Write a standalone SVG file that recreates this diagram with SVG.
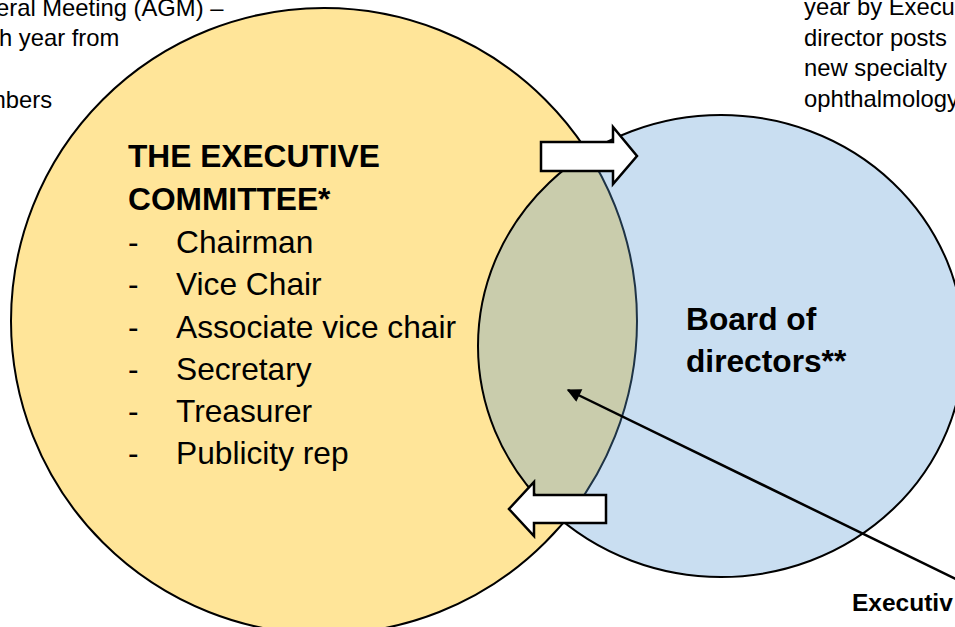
<svg xmlns="http://www.w3.org/2000/svg" width="955" height="627" viewBox="0 0 955 627">
  <style>
    .t { font-family: "Liberation Sans", Arial, sans-serif; fill: #000; }
    .note { font-size: 23.8px; }
    .big { font-size: 31.7px; }
    .b { font-weight: bold; }
    .blk { fill: #fff; stroke: #000; stroke-width: 2.5; stroke-linejoin: miter; }
  </style>
  <defs>
    <marker id="ah" viewBox="0 0 10 10" refX="9" refY="5" markerWidth="17" markerHeight="14" markerUnits="userSpaceOnUse" orient="auto">
      <path d="M0,0 L10,5 L0,10 z" fill="#000"/>
    </marker>
  </defs>
  <rect width="955" height="627" fill="#fff"/>

  <g id="notes">
    <text class="t note" x="-4" y="16">eral Meeting (AGM) –</text>
    <text class="t note" x="-1" y="46">h year from</text>
    <text class="t note" x="-14" y="108">mbers</text>
    <text class="t note" x="804" y="15">year by Execu</text>
    <text class="t note" x="804" y="45.5">director posts</text>
    <text class="t note" x="804" y="76">new specialty</text>
    <text class="t note" x="804" y="107">ophthalmology</text>
  </g>

  <g id="executive-committee">
    <circle cx="324" cy="321" r="313" fill="#FFE599" stroke="#000" stroke-width="2"/>
  </g>

  <g id="board-of-directors">
    <ellipse cx="721" cy="346" rx="243" ry="231" fill="#5B9BD5" fill-opacity="0.33" stroke="#000" stroke-width="2"/>
  </g>

  <g id="executive-committee-label">
    <text class="t big b" x="128" y="167">THE EXECUTIVE</text>
    <text class="t big b" x="128" y="210">COMMITTEE*</text>
    <text class="t big" x="128" y="252.5">-</text><text class="t big" x="176" y="252.5">Chairman</text>
    <text class="t big" x="128" y="295">-</text><text class="t big" x="176" y="295">Vice Chair</text>
    <text class="t big" x="128" y="337.5">-</text><text class="t big" x="176" y="337.5">Associate vice chair</text>
    <text class="t big" x="128" y="379.5">-</text><text class="t big" x="176" y="379.5">Secretary</text>
    <text class="t big" x="128" y="422">-</text><text class="t big" x="176" y="422">Treasurer</text>
    <text class="t big" x="128" y="464">-</text><text class="t big" x="176" y="464">Publicity rep</text>
  </g>

  <g id="board-of-directors-label">
    <text class="t big b" x="686" y="330">Board of</text>
    <text class="t big b" x="686" y="372">directors**</text>
  </g>

  <g id="executive-label">
    <text class="t b" style="font-size:24.5px" x="852" y="611">Executiv</text>
  </g>

  <g id="connectors">
    <path class="blk" d="M541,142 H613 V127 L637,156 L613,184 V171 H541 Z"/>
    <path class="blk" d="M606,495 H534 V482 L509,509 L534,536 V523 H606 Z"/>
    <line x1="958" y1="580" x2="568" y2="390" stroke="#000" stroke-width="2.5" marker-end="url(#ah)"/>
  </g>
</svg>
